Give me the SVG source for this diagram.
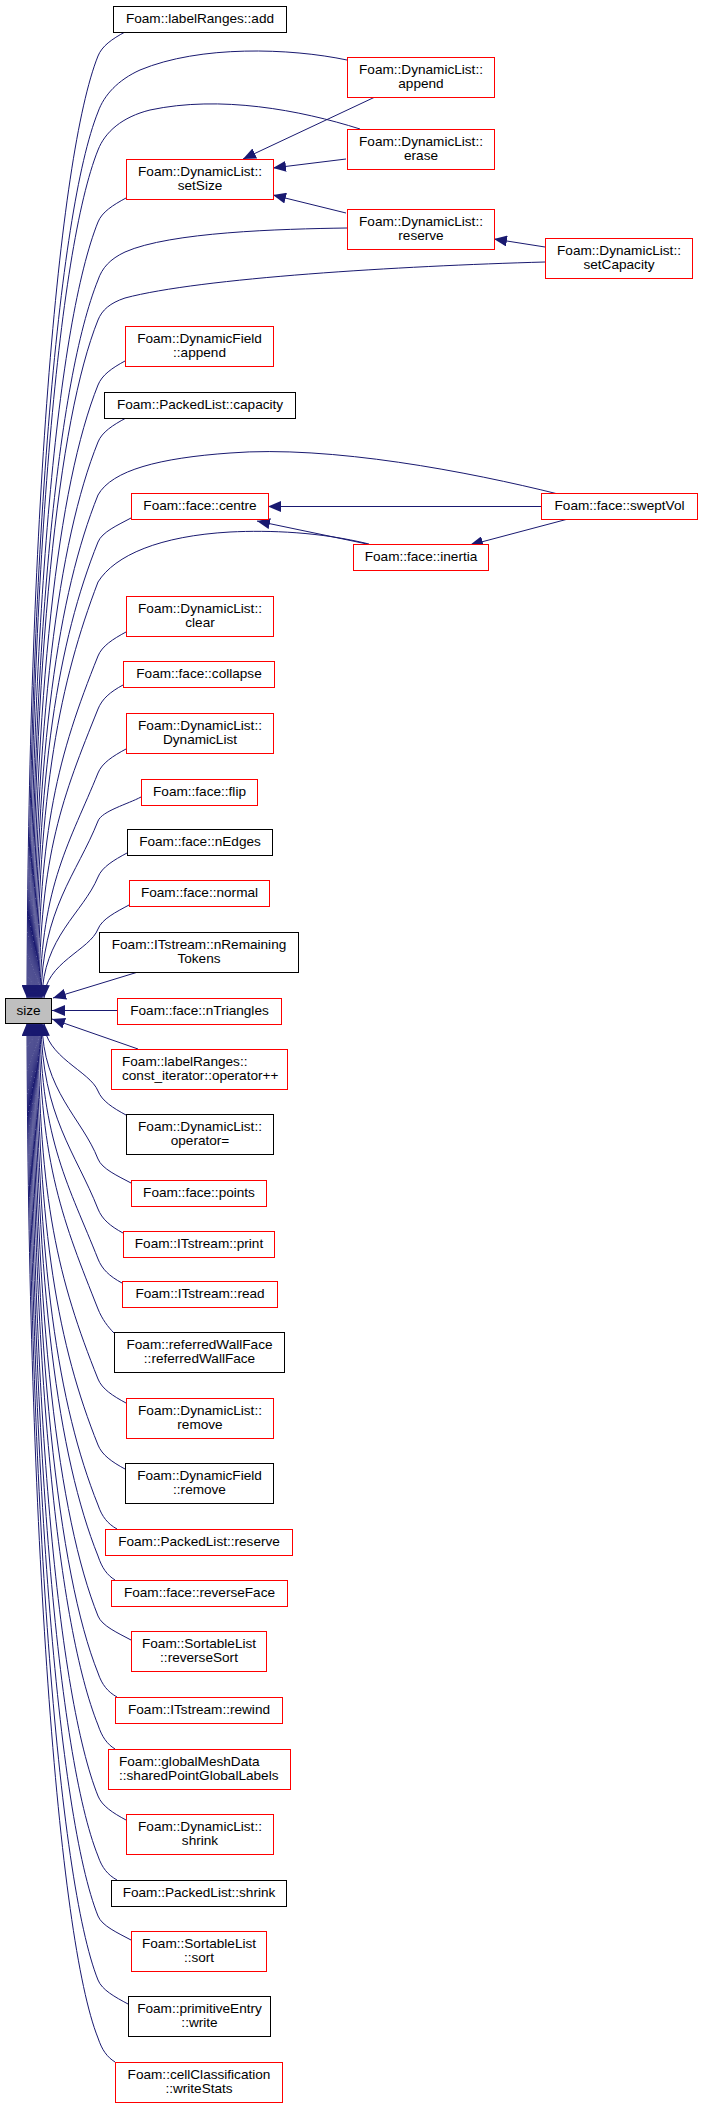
<svg xmlns="http://www.w3.org/2000/svg" width="701" height="2109" viewBox="0 0 701 2109">
<style>
.node rect{fill:#ffffff;stroke-width:1}
.r rect{stroke:#ff0000}
.k rect{stroke:#000000}
.g rect{fill:#bfbfbf;stroke:#000000}
text{font-family:"Liberation Sans",Arial,Helvetica,sans-serif;font-size:13.6px;fill:#000000;text-anchor:middle}
text.l{text-anchor:start}
.edges path{fill:none;stroke:#191970;stroke-width:1;marker-end:url(#ah)}
</style>
<defs>
<marker id="ah" viewBox="0 0 13 11" markerWidth="13" markerHeight="11" refX="13" refY="5.5" orient="auto" markerUnits="userSpaceOnUse">
<path d="M0,0 L13,5.5 L0,11 Z" fill="#191970"/>
</marker>
</defs>
<rect x="0" y="0" width="701" height="2109" fill="#ffffff"/>
<g id="edges" class="edges">
<path d="M125,32 C112,39 102,46 98,56 C58,156 28,527 27,998"/>
<path d="M347,60 C290,48 200,45 140,70 C118,80 104,95 98,112 C58,212 29,555 28,998"/>
<path d="M360,129 C300,110 220,95 150,110 C122,117 105,132 98,150 C58,250 30,574 29,998"/>
<path d="M126,198 C113,205 102,212 98,222 C58,322 31,610 30,998"/>
<path d="M347,228 C280,229 170,232 125,252 C110,259 102,268 98,280 C58,380 32,639 31,998"/>
<path d="M545,262 C400,266 200,278 125,298 C110,303 102,310 98,320 C58,420 33,659 32,998"/>
<path d="M125,361 C112,368 102,375 98,385 C58,485 34,691 33,998"/>
<path d="M126,418 C113,425 102,432 98,442 C58,542 35,720 34,998"/>
<path d="M558,494 C470,472 330,445 230,453 C160,458 112,470 98,495 C58,595 36,746 35,998"/>
<path d="M131,518 C118,525 102,532 98,542 C58,642 37,770 36,998"/>
<path d="M369,544 C320,532 270,530 230,532 C160,536 115,555 98,582 C60,682 38,790 37,998"/>
<path d="M126,632 C113,639 102,646 98,656 C58,756 39,827 38,998"/>
<path d="M123,685 C110,692 102,699 98,709 C63,796 40,853 39,998"/>
<path d="M126,749 C113,756 102,763 98,773 C71,840 41,885 40,998"/>
<path d="M141,797 C128,804 102,811 98,821 C77,874 42,909 41,998"/>
<path d="M127,853 C114,860 102,867 98,877 C83,913 43,937 42,998"/>
<path d="M129,905 C116,912 102,919 98,929 C90,950 45,963 44,998"/>
<path d="M138,972 L53,998"/>
<path d="M117,1010.5 L52,1010.5"/>
<path d="M138,1049 L52,1019"/>
<path d="M126,1115 C113,1108 102,1101 98,1091 C90,1071 45,1057 44,1023"/>
<path d="M131,1183 C118,1176 102,1169 98,1159 C82,1118 43,1091 42,1023"/>
<path d="M123,1233 C110,1226 102,1219 98,1209 C76,1153 42,1116 41,1023"/>
<path d="M122,1283 C109,1276 102,1269 98,1259 C70,1188 41,1141 40,1023"/>
<path d="M114,1333 C108,1327 102,1319 98,1309 C64,1223 40,1166 39,1023"/>
<path d="M126,1403 C113,1396 102,1389 98,1379 C58,1279 39,1201 38,1023"/>
<path d="M125,1469 C112,1462 102,1455 98,1445 C58,1345 38,1234 37,1023"/>
<path d="M117,1529 C108,1524 102,1517 98,1505 C58,1405 37,1264 36,1023"/>
<path d="M115,1580 C107,1575 102,1568 98,1556 C58,1456 36,1289 35,1023"/>
<path d="M131,1640 C118,1633 102,1626 98,1616 C58,1516 35,1319 34,1023"/>
<path d="M117,1697 C108,1692 102,1685 98,1673 C58,1573 34,1348 33,1023"/>
<path d="M115,1749 C107,1744 102,1737 98,1725 C58,1625 33,1374 32,1023"/>
<path d="M126,1820 C113,1813 102,1806 98,1796 C58,1696 32,1409 31,1023"/>
<path d="M117,1880 C108,1875 102,1868 98,1856 C58,1756 31,1439 30,1023"/>
<path d="M131,1940 C118,1933 102,1926 98,1916 C58,1816 30,1469 29,1023"/>
<path d="M128,2004 C115,1997 102,1990 98,1980 C58,1880 29,1501 28,1023"/>
<path d="M115,2062 C107,2057 102,2050 98,2038 C58,1938 28,1530 27,1023"/>
<path d="M375,97 L243,159"/>
<path d="M346,159 L273,168"/>
<path d="M346,213 L273,195"/>
<path d="M545,247 L494,239"/>
<path d="M541,506.5 L268,506.5"/>
<path d="M367,544 L257,521"/>
<path d="M568,519 L470,545"/>
</g>
<g id="n_labelRanges_add" class="node k"><rect x="113.5" y="6.5" width="173" height="26"/><text x="200" y="23">Foam::labelRanges::add</text></g>
<g id="n_DL_append" class="node r"><rect x="347.5" y="57.5" width="147" height="40"/><text x="421" y="73.5">Foam::DynamicList::</text><text x="421" y="88">append</text></g>
<g id="n_DL_erase" class="node r"><rect x="347.5" y="129.5" width="147" height="40"/><text x="421" y="145.5">Foam::DynamicList::</text><text x="421" y="160">erase</text></g>
<g id="n_DL_setSize" class="node r"><rect x="126.5" y="159.5" width="147" height="40"/><text x="200" y="175.5">Foam::DynamicList::</text><text x="200" y="190">setSize</text></g>
<g id="n_DL_reserve" class="node r"><rect x="347.5" y="209.5" width="147" height="40"/><text x="421" y="225.5">Foam::DynamicList::</text><text x="421" y="240">reserve</text></g>
<g id="n_DL_setCapacity" class="node r"><rect x="545.5" y="238.5" width="147" height="40"/><text x="619" y="254.5">Foam::DynamicList::</text><text x="619" y="269">setCapacity</text></g>
<g id="n_DF_append" class="node r"><rect x="125.5" y="326.5" width="148" height="40"/><text x="199.5" y="342.5">Foam::DynamicField</text><text x="199.5" y="357">::append</text></g>
<g id="n_PL_capacity" class="node k"><rect x="104.5" y="392.5" width="191" height="26"/><text x="200" y="409">Foam::PackedList::capacity</text></g>
<g id="n_face_centre" class="node r"><rect x="131.5" y="493.5" width="137" height="26"/><text x="200" y="510">Foam::face::centre</text></g>
<g id="n_face_sweptVol" class="node r"><rect x="541.5" y="493.5" width="156" height="26"/><text x="619.5" y="510">Foam::face::sweptVol</text></g>
<g id="n_face_inertia" class="node r"><rect x="353.5" y="544.5" width="135" height="26"/><text x="421" y="561">Foam::face::inertia</text></g>
<g id="n_DL_clear" class="node r"><rect x="126.5" y="596.5" width="147" height="40"/><text x="200" y="612.5">Foam::DynamicList::</text><text x="200" y="627">clear</text></g>
<g id="n_face_collapse" class="node r"><rect x="123.5" y="661.5" width="151" height="26"/><text x="199" y="678">Foam::face::collapse</text></g>
<g id="n_DL_DynamicList" class="node r"><rect x="126.5" y="713.5" width="147" height="40"/><text x="200" y="729.5">Foam::DynamicList::</text><text x="200" y="744">DynamicList</text></g>
<g id="n_face_flip" class="node r"><rect x="141.5" y="779.5" width="116" height="26"/><text x="199.5" y="796">Foam::face::flip</text></g>
<g id="n_face_nEdges" class="node k"><rect x="127.5" y="829.5" width="145" height="26"/><text x="200" y="846">Foam::face::nEdges</text></g>
<g id="n_face_normal" class="node r"><rect x="129.5" y="880.5" width="140" height="26"/><text x="199.5" y="897">Foam::face::normal</text></g>
<g id="n_ITstream_nRemainingTokens" class="node k"><rect x="99.5" y="932.5" width="199" height="40"/><text x="199" y="948.5">Foam::ITstream::nRemaining</text><text x="199" y="963">Tokens</text></g>
<g id="n_size" class="node g"><rect x="5.5" y="998.5" width="46" height="25"/><text x="28.5" y="1015">size</text></g>
<g id="n_face_nTriangles" class="node r"><rect x="117.5" y="998.5" width="164" height="26"/><text x="199.5" y="1015">Foam::face::nTriangles</text></g>
<g id="n_labelRanges_const_iterator_opinc" class="node r"><rect x="111.5" y="1049.5" width="176" height="40"/><text class="l" x="122" y="1065.5">Foam::labelRanges::</text><text class="l" x="122" y="1080">const_iterator::operator++</text></g>
<g id="n_DL_operator_assign" class="node k"><rect x="126.5" y="1114.5" width="147" height="40"/><text x="200" y="1130.5">Foam::DynamicList::</text><text x="200" y="1145">operator=</text></g>
<g id="n_face_points" class="node r"><rect x="131.5" y="1180.5" width="135" height="26"/><text x="199" y="1197">Foam::face::points</text></g>
<g id="n_ITstream_print" class="node r"><rect x="123.5" y="1231.5" width="151" height="26"/><text x="199" y="1248">Foam::ITstream::print</text></g>
<g id="n_ITstream_read" class="node r"><rect x="122.5" y="1281.5" width="155" height="26"/><text x="200" y="1298">Foam::ITstream::read</text></g>
<g id="n_referredWallFace" class="node k"><rect x="114.5" y="1332.5" width="170" height="40"/><text x="199.5" y="1348.5">Foam::referredWallFace</text><text x="199.5" y="1363">::referredWallFace</text></g>
<g id="n_DL_remove" class="node r"><rect x="126.5" y="1398.5" width="147" height="40"/><text x="200" y="1414.5">Foam::DynamicList::</text><text x="200" y="1429">remove</text></g>
<g id="n_DF_remove" class="node k"><rect x="125.5" y="1463.5" width="148" height="40"/><text x="199.5" y="1479.5">Foam::DynamicField</text><text x="199.5" y="1494">::remove</text></g>
<g id="n_PL_reserve" class="node r"><rect x="105.5" y="1529.5" width="187" height="26"/><text x="199" y="1546">Foam::PackedList::reserve</text></g>
<g id="n_face_reverseFace" class="node r"><rect x="111.5" y="1580.5" width="176" height="26"/><text x="199.5" y="1597">Foam::face::reverseFace</text></g>
<g id="n_SL_reverseSort" class="node r"><rect x="131.5" y="1631.5" width="135" height="40"/><text x="199" y="1647.5">Foam::SortableList</text><text x="199" y="1662">::reverseSort</text></g>
<g id="n_ITstream_rewind" class="node r"><rect x="115.5" y="1697.5" width="167" height="26"/><text x="199" y="1714">Foam::ITstream::rewind</text></g>
<g id="n_globalMeshData_sharedPointGlobalLabels" class="node r"><rect x="108.5" y="1749.5" width="182" height="40"/><text class="l" x="119" y="1765.5">Foam::globalMeshData</text><text class="l" x="119" y="1780">::sharedPointGlobalLabels</text></g>
<g id="n_DL_shrink" class="node r"><rect x="126.5" y="1814.5" width="147" height="40"/><text x="200" y="1830.5">Foam::DynamicList::</text><text x="200" y="1845">shrink</text></g>
<g id="n_PL_shrink" class="node k"><rect x="111.5" y="1880.5" width="175" height="26"/><text x="199" y="1897">Foam::PackedList::shrink</text></g>
<g id="n_SL_sort" class="node r"><rect x="131.5" y="1931.5" width="135" height="40"/><text x="199" y="1947.5">Foam::SortableList</text><text x="199" y="1962">::sort</text></g>
<g id="n_primitiveEntry_write" class="node k"><rect x="128.5" y="1996.5" width="142" height="40"/><text x="199.5" y="2012.5">Foam::primitiveEntry</text><text x="199.5" y="2027">::write</text></g>
<g id="n_cellClassification_writeStats" class="node r"><rect x="115.5" y="2062.5" width="167" height="40"/><text x="199" y="2078.5">Foam::cellClassification</text><text x="199" y="2093">::writeStats</text></g>
</svg>
